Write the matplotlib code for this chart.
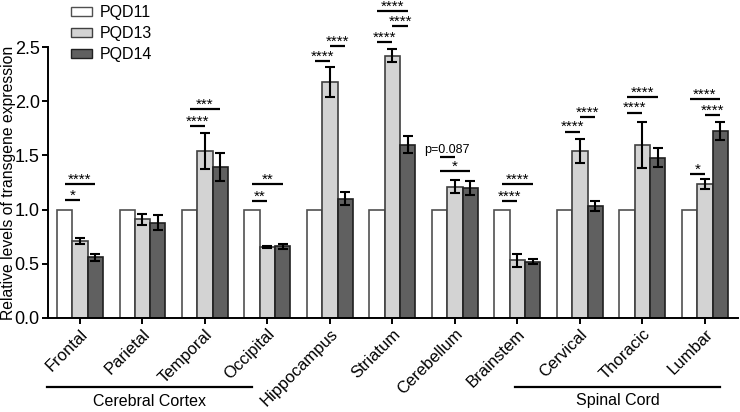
import matplotlib
matplotlib.use("Agg")
import matplotlib.pyplot as plt
import matplotlib.transforms as mtransforms
from matplotlib.patches import Patch
import numpy as np

plt.rcParams['font.family'] = ['Liberation Sans', 'DejaVu Sans']

regions = ["Frontal", "Parietal", "Temporal", "Occipital", "Hippocampus", "Striatum",
           "Cerebellum", "Brainstem", "Cervical", "Thoracic", "Lumbar"]
series_names = ["PQD11", "PQD13", "PQD14"]
pqd11 = [1, 1, 1, 1, 1, 1, 1, 1, 1, 1, 1]
pqd13 = [0.71, 0.91, 1.54, 0.655, 2.18, 2.42, 1.21, 0.535, 1.54, 1.595, 1.235]
pqd13_err = [0.025, 0.05, 0.17, 0.01, 0.14, 0.06, 0.06, 0.06, 0.11, 0.21, 0.045]
pqd14 = [0.56, 0.88, 1.39, 0.66, 1.10, 1.60, 1.20, 0.52, 1.035, 1.48, 1.725]
pqd14_err = [0.03, 0.07, 0.13, 0.02, 0.06, 0.075, 0.065, 0.025, 0.045, 0.09, 0.085]

# significance annotations: (group index, bar a, bar b, height, label)
sig_group = [0, 0, 2, 2, 3, 3, 4, 4, 5, 5, 5, 6, 6, 7, 7, 8, 8, 9, 9, 10, 10, 10]
sig_a = [0, 0, 0, 0, 0, 0, 0, 1, 0, 1, 0, 0, 0, 0, 0, 0, 1, 0, 0, 0, 1, 0]
sig_b = [1, 2, 1, 2, 1, 2, 1, 2, 1, 2, 2, 1, 2, 1, 2, 1, 2, 1, 2, 1, 2, 2]
sig_y = [1.086, 1.236, 1.77, 1.93, 1.08, 1.236, 2.37, 2.51, 2.546, 2.69, 2.83,
         1.488, 1.353, 1.08, 1.236, 1.72, 1.855, 1.894, 2.04, 1.325, 1.873, 2.02]
sig_text = ["*", "****", "****", "***", "**", "**", "****", "****", "****", "****", "****",
            "p=0.087", "*", "****", "****", "****", "****", "****", "****", "*", "****", "****"]

fills = ["#ffffff", "#d3d3d3", "#606060"]
edges = ["#505050", "#404040", "#202020"]

fig = plt.figure(figsize=(7.4, 4.12), dpi=100)
W, H = 740, 412
ax = fig.add_axes([48 / W, 1 - 318 / H, (738 - 48) / W, (318 - 47) / H])

x = np.arange(len(regions))
w = 0.245
vals = [pqd11, pqd13, pqd14]
errs = [None, pqd13_err, pqd14_err]
for i in range(3):
    ax.bar(x + (i - 1) * w, vals[i], width=w, color=fills[i], edgecolor=edges[i],
           linewidth=1.2, zorder=2)
    if errs[i] is not None:
        ax.errorbar(x + (i - 1) * w, vals[i], yerr=errs[i], fmt='none', ecolor='black',
                    elinewidth=1.5, capsize=3.8, capthick=1.5, zorder=3)

for g, a, b, yv, t in zip(sig_group, sig_a, sig_b, sig_y, sig_text):
    xa = g + (a - 1) * w
    xb = g + (b - 1) * w
    ax.plot([xa, xb], [yv, yv], color='black', lw=1.6, clip_on=False, solid_capstyle='butt', zorder=4)
    if t.startswith('p'):
        ax.annotate(t, ((xa + xb) / 2, yv), xytext=(0, 2.5), textcoords='offset points',
                    ha='center', va='baseline', fontsize=9, annotation_clip=False)
    else:
        ax.annotate(t, ((xa + xb) / 2, yv), xytext=(0, 0.3), textcoords='offset points',
                    ha='center', va='baseline', fontsize=11, annotation_clip=False)

ax.set_xlim(-0.512, 10.53)
ax.set_ylim(0, 2.5)
ax.set_yticks([0, 0.5, 1.0, 1.5, 2.0, 2.5])
ax.set_yticklabels(["0.0", "0.5", "1.0", "1.5", "2.0", "2.5"], fontsize=13)
ax.set_xticks(x)
ax.set_xticklabels(regions, rotation=45, ha='right', va='top', rotation_mode='anchor', fontsize=12)
shift = mtransforms.ScaledTranslation(4 / 100, -2 / 100, fig.dpi_scale_trans)
for lbl in ax.get_xticklabels():
    lbl.set_transform(lbl.get_transform() + shift)
ax.set_ylabel("Relative levels of transgene expression", fontsize=11.3, va='center')
ax.yaxis.set_label_coords((9 - 48) / 690, 0.5)
for s in ['top', 'right']:
    ax.spines[s].set_visible(False)
for s in ['left', 'bottom']:
    ax.spines[s].set_linewidth(1.4)
ax.tick_params(axis='both', width=1.4, length=4, direction='out', pad=2)

# group labels under tick labels
trans = mtransforms.blended_transform_factory(ax.transData, ax.transAxes)
line_y = (318 - 387) / 271
text_y = (318 - 401) / 271
groups = [("Cerebral Cortex", -0.53, 2.75), ("Spinal Cord", 6.96, 10.24)]
for name, x0, x1 in groups:
    ax.plot([x0, x1], [line_y, line_y], color='black', lw=1.6, transform=trans, clip_on=False)
    ax.text((x0 + x1) / 2, text_y, name, transform=trans, ha='center', va='center', fontsize=11.5)

handles = [Patch(facecolor=fills[i], edgecolor=edges[i], linewidth=1.0, label=series_names[i])
           for i in range(3)]
fig.legend(handles=handles, loc='upper left', bbox_to_anchor=(71 / W, 1 - 5 / H),
           frameon=False, fontsize=11.5, handlelength=1.3, handleheight=0.45,
           labelspacing=0.38, handletextpad=0.5, borderpad=0, borderaxespad=0)

fig.savefig("out.png", dpi=100)
